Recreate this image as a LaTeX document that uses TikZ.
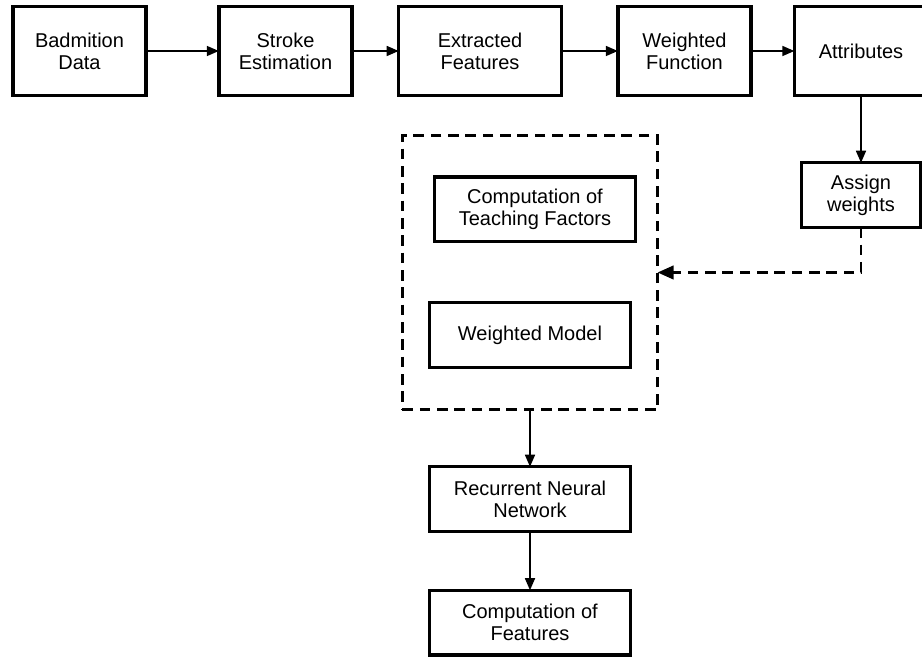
\documentclass[tikz,border=0pt]{standalone}
\usepackage{fontspec}
\setmainfont{Liberation Sans}
\usetikzlibrary{arrows.meta}

\begin{document}
\begin{tikzpicture}[x=0.75pt,y=-0.75pt,every node/.style={outer sep=0pt,font=\fontsize{15}{16.5}\selectfont}]
\tikzstyle{block}=[draw,line width=2.6pt,align=center,inner sep=2pt,
minimum width=100pt,minimum height=66.4pt]
\tikzstyle{wideblock}=[block,minimum width=150.4pt,minimum height=48.4pt]
\tikzstyle{flow}=[line width=1.2pt,-{Triangle[length=9pt,width=7.5pt]}]
\tikzstyle{dflow}=[line width=2.2pt,dash pattern=on 8pt off 5pt,
-{Triangle[length=12pt,width=10pt]}]
\useasboundingbox (0,0) rectangle (922,659);
% top row
\node (data) [block] at (79.5,51) {Badmition\\Data};
\node (stroke) [block] at (285.5,51) {Stroke\\Estimation};
\node (feat) [block,minimum width=122pt] at (480,51) {Extracted\\Features};
\node (wfun) [block] at (684.5,51) {Weighted\\Function};
\node (attr) [block] at (861,51) {Attributes};
\node (assign) [block,minimum width=89pt,minimum height=48.4pt] at (861,195) {Assign\\weights};
% dashed group
\node (group) [draw,line width=2.2pt,dash pattern=on 8pt off 5pt,
minimum width=191.3pt,minimum height=205.5pt] at (530,272.5) {};
\node (teach) [wideblock] at (535,209.5) {Computation of\\Teaching Factors};
\node (wmodel) [wideblock] at (530,335) {Weighted Model};
% bottom column
\node (rnn) [wideblock] at (530,499) {Recurrent Neural\\Network};
\node (comp) [wideblock] at (530,622.5) {Computation of\\Features};
% connectors
\draw [flow] (data.east) -- (stroke.west);
\draw [flow] (stroke.east) -- (feat.west);
\draw [flow] (feat.east) -- (wfun.west);
\draw [flow] (wfun.east) -- (attr.west);
\draw [flow] (attr.south) -- (assign.north);
\draw [dflow] (assign.south) |- (group.east);
\draw [flow] (group.south) -- (rnn.north);
\draw [flow] (rnn.south) -- (comp.north);
\end{tikzpicture}
\end{document}
